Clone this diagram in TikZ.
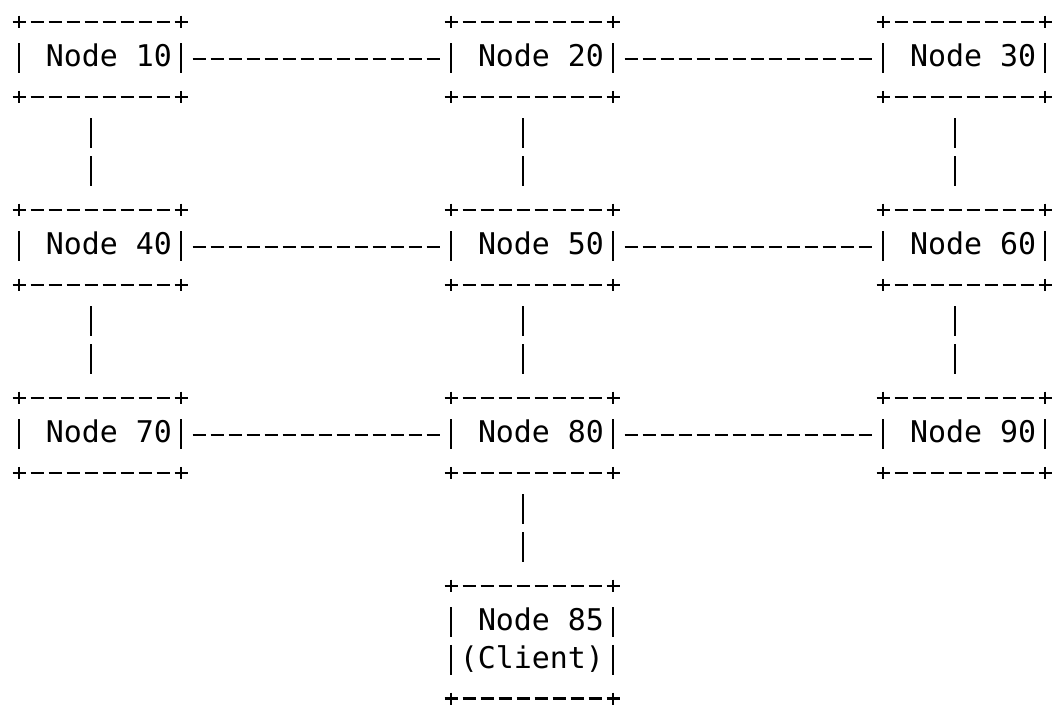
\documentclass[tikz,border=0pt]{standalone}
\usepackage{fontspec}
\setmonofont{DejaVu Sans Mono}
\usepackage{tikz}
\usetikzlibrary{calc}

\newcommand{\asciifont}{\fontsize{29.9pt}{37.6pt}\selectfont\ttfamily}

\tikzset{
  ink/.style={line width=2.3pt, black},
  box/.style={minimum width=162pt, minimum height=75.2pt, inner sep=0pt,
    outer sep=0pt, font=\asciifont, text height=14.8pt, text depth=0pt},
  rim/.style={ink, dash pattern=on 13pt off 5pt},
  side/.style={ink, dash pattern=on 12pt off 15.6pt on 30pt off 17.6pt on 12pt off 40pt},
  sidelong/.style={ink, dash pattern=on 12pt off 15.6pt on 30pt off 7.6pt on 30pt off 17.6pt on 12pt off 40pt},
  link/.style={ink, shorten <=11.5pt, shorten >=11.5pt, dash pattern=on 13pt off 5pt},
  vlink/.style={ink, shorten <=21.6pt, shorten >=23.6pt, dash pattern=on 30pt off 7.6pt}
}

\begin{document}
\begin{tikzpicture}[x=1pt, y=-1pt]
        \useasboundingbox (0,0) rectangle (1061,708);
        % Grid of nodes
        \foreach \lab/\cx/\cy in {10/100/59.3, 20/532/59.3, 30/964/59.3,
                                  40/100/247.3, 50/532/247.3, 60/964/247.3,
                                  70/100/435.3, 80/532/435.3, 90/964/435.3}
          \node[box] (n\lab) at (\cx,\cy) {~Node \lab};
        % Client node
        \node[box, minimum height=112.8pt, text depth=37.6pt] (n85) at (532,642.1)
          {\vtop{\hbox{~Node 85}\hbox{(Client)}}};
        % Box outlines
        \foreach \n in {n10, n20, n30, n40, n50, n60, n70, n80, n90, n85} {
          \draw[rim] ([xshift=-6.5pt]\n.north west) -- ([xshift=6.5pt]\n.north east);
          \draw[rim] ([xshift=-6.5pt]\n.south west) -- ([xshift=6.5pt]\n.south east);
        }
        \foreach \n in {n10, n20, n30, n40, n50, n60, n70, n80, n90} {
          \draw[side] ([yshift=6pt]\n.north west) -- ([yshift=-6pt]\n.south west);
          \draw[side] ([yshift=6pt]\n.north east) -- ([yshift=-6pt]\n.south east);
        }
        \draw[sidelong] ([yshift=6pt]n85.north west) -- ([yshift=-6pt]n85.south west);
        \draw[sidelong] ([yshift=6pt]n85.north east) -- ([yshift=-6pt]n85.south east);
        % Horizontal links
        \foreach \a/\b in {n10/n20, n20/n30, n40/n50, n50/n60, n70/n80, n80/n90}
          \draw[link] (\a.east) -- (\b.west);
        % Vertical links
        \foreach \a/\b in {n10/n40, n20/n50, n30/n60, n40/n70, n50/n80, n60/n90, n80/n85}
          \draw[vlink] ([xshift=-9pt]\a.south) -- ([xshift=-9pt]\b.north);
      \end{tikzpicture}
\end{document}
